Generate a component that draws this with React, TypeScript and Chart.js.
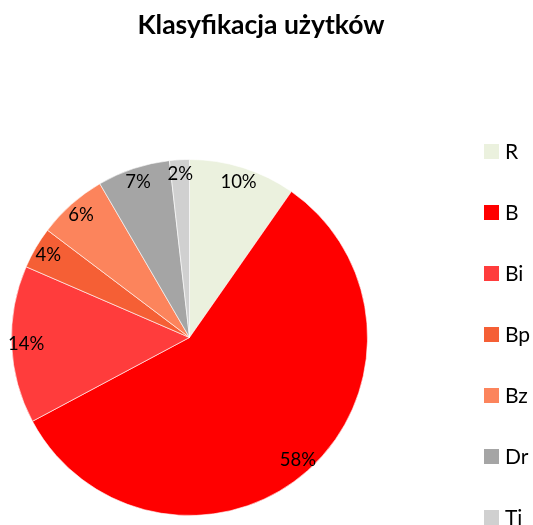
import React, { useEffect, useRef } from "react";
import { Chart, registerables } from "chart.js";

Chart.register(...registerables);

const chartTitle = "Klasyfikacja użytków";
const categories = ["R", "B", "Bi", "Bp", "Bz", "Dr", "Ti"];
const values = [9.7, 57.5, 14.3, 3.8, 6.3, 6.6, 1.8];
const colors = ["#EBF1DE", "#FF0000", "#FF3C3C", "#F55F35", "#FC845C", "#A5A5A5", "#D0D0D0"];

const FONT = "Lato, 'Open Sans', sans-serif";

const pctLabels = {
  id: "pctLabels",
  afterDatasetsDraw(chart: any) {
    const ctx = chart.ctx;
    const meta = chart.getDatasetMeta(0);
    const data: number[] = chart.data.datasets[0].data;
    const total = data.reduce((a, b) => a + b, 0);
    ctx.save();
    ctx.font = `18.5px ${FONT}`;
    ctx.fillStyle = "#000";
    ctx.textAlign = "center";
    ctx.textBaseline = "middle";
    meta.data.forEach((arc: any, i: number) => {
      const p = arc.getProps(["x", "y", "startAngle", "endAngle", "outerRadius"], true);
      const mid = (p.startAngle + p.endAngle) / 2;
      const r = p.outerRadius - 14.5;
      ctx.fillText(
        Math.round((data[i] / total) * 100) + "%",
        p.x + Math.cos(mid) * r,
        p.y + Math.sin(mid) * r
      );
    });
    ctx.restore();
  },
};

const titleAndLegend = {
  id: "titleAndLegend",
  afterDraw(chart: any) {
    const ctx = chart.ctx;
    ctx.save();
    ctx.fillStyle = "#000";
    ctx.font = `bold 26.5px ${FONT}`;
    ctx.textAlign = "center";
    ctx.textBaseline = "middle";
    ctx.fillText(chartTitle, 261, 25.5);

    ctx.font = `21px ${FONT}`;
    ctx.textAlign = "left";
    categories.forEach((c, i) => {
      const y = 144 + i * 61;
      ctx.fillStyle = colors[i];
      ctx.fillRect(484, y, 15, 15);
      ctx.fillStyle = "#000";
      ctx.fillText(c, 505, y + 8);
    });
    ctx.restore();
  },
};

export default function App() {
  const ref = useRef<HTMLCanvasElement | null>(null);
  useEffect(() => {
    if (!ref.current) return;
    const chart = new Chart(ref.current, {
      type: "pie",
      data: {
        labels: categories,
        datasets: [
          {
            data: values,
            backgroundColor: colors,
            borderColor: "rgba(255,255,255,0.6)",
            borderWidth: 1,
          },
        ],
      },
      options: {
        responsive: false,
        animation: false,
        layout: { padding: { top: 159, bottom: 9, left: 11, right: 165 } },
        plugins: {
          legend: { display: false },
          title: { display: false },
          tooltip: { enabled: false },
        },
      },
      plugins: [pctLabels, titleAndLegend],
    });
    return () => chart.destroy();
  }, []);
  return (
    <div style={{ position: "absolute", left: 0, top: 0, width: 533, height: 525, background: "#fff" }}>
      <canvas ref={ref} width={533} height={525} style={{ display: "block" }} />
    </div>
  );
}
